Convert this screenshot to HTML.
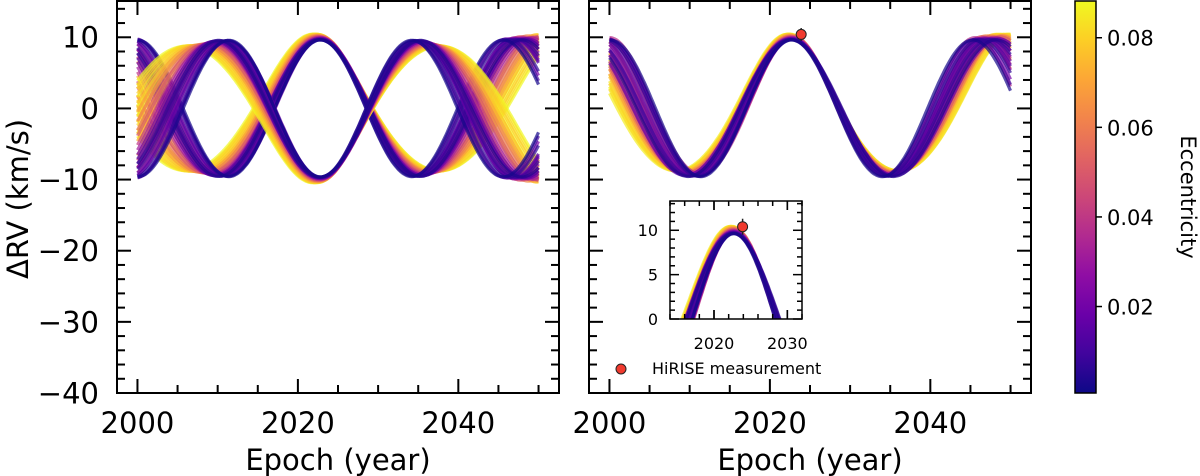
<!DOCTYPE html>
<html><head><meta charset="utf-8">
<style>
html,body{margin:0;padding:0;background:#fff;}
svg{display:block;font-family:"DejaVu Sans","Liberation Sans",sans-serif;}
</style></head>
<body>
<svg id="fig" width="1200" height="476" viewBox="0 0 1200 476" xmlns="http://www.w3.org/2000/svg">
<defs>
<linearGradient id="plasma" x1="0" y1="1" x2="0" y2="0">
<stop offset="0" stop-color="#0d0887"/><stop offset="0.1" stop-color="#41049d"/>
<stop offset="0.2" stop-color="#6a00a8"/><stop offset="0.3" stop-color="#8f0da4"/>
<stop offset="0.4" stop-color="#b12a90"/><stop offset="0.5" stop-color="#cc4778"/>
<stop offset="0.6" stop-color="#e16462"/><stop offset="0.7" stop-color="#f2844b"/>
<stop offset="0.8" stop-color="#fca636"/><stop offset="0.9" stop-color="#fcce25"/>
<stop offset="1" stop-color="#f0f921"/>
</linearGradient>
<clipPath id="clipL"><rect x="117" y="1" width="442" height="392"/></clipPath>
<clipPath id="clipR"><rect x="589" y="1" width="442" height="392"/></clipPath>
<clipPath id="clipI"><rect x="670" y="201" width="132" height="118"/></clipPath>
</defs>
<g id="left"></g>
<g id="right"></g>
<g id="inset"></g>
<g id="cbar"></g>
<text x="0" y="0" transform="translate(28,199) rotate(-90)" font-size="29" text-anchor="middle">ΔRV (km/s)</text>
<text x="338" y="470" font-size="29" text-anchor="middle">Epoch (year)</text>
<text x="810" y="470" font-size="29" text-anchor="middle">Epoch (year)</text>
<text x="0" y="0" transform="translate(1181,197) rotate(90)" font-size="21" text-anchor="middle">Eccentricity</text>
<g>
<circle cx="621" cy="369" r="5" fill="#f03a2e" stroke="#222" stroke-width="1"/>
<text x="652" y="374" font-size="16">HiRISE measurement</text>
</g>
</svg>
<script>
// ---- data ----
const rightEcc  = [0.002,0.004,0.006,0.008,0.010,0.012,0.014,0.016,0.018,0.020,0.022,0.025,0.028,0.031,0.034,0.037,0.040,0.044,0.048,0.052,0.056,0.060,0.064,0.068,0.072,0.076,0.078,0.080,0.081,0.082,0.083,0.084,0.085,0.086,0.087,0.088];
const rightPer  = [22.6,25.6,23.4,24.8,22.9,25.2,23.8,24.2,26.0,23.1,24.6,25.0,23.5,25.8,24.0,22.8,25.4,24.4,26.2,23.6,25.0,26.4,24.2,26.6,25.2,26.8,25.8,27.2,26.2,27.6,25.6,27.0,26.6,27.8,26.0,27.4];
const rightPeak = [2022.7,2022.6,2022.8,2022.6,2022.7,2022.5,2022.8,2022.7,2022.5,2022.8,2022.6,2022.7,2022.9,2022.5,2022.7,2022.8,2022.6,2022.7,2022.5,2022.9,2022.6,2022.5,2022.8,2022.4,2022.6,2022.4,2022.5,2022.3,2022.4,2022.3,2022.5,2022.3,2022.4,2022.2,2022.5,2022.3];
const leftEcc   = [0.002,0.004,0.006,0.008,0.010,0.012,0.014,0.016,0.018,0.020,0.022,0.025,0.028,0.031,0.034,0.037,0.040,0.044,0.048,0.052,0.056,0.060,0.064,0.068,0.072,0.076,0.078,0.080,0.081,0.082,0.083,0.084,0.085,0.086,0.087,0.088];
const leftPer   = [22.8,25.2,23.4,24.6,23.0,25.6,23.9,24.2,26.0,23.2,24.8,25.4,24.0,26.4,25.0,24.4,26.8,25.6,27.4,25.0,27.8,28.4,26.0,29.0,27.0,29.6,28.2,30.4,27.4,30.8,29.0,31.2,28.6,30.0,29.4,31.6];
const leftPeak  = [2022.8,2022.7,2022.9,2022.7,2022.8,2022.6,2022.9,2022.8,2022.6,2022.9,2022.7,2022.8,2022.9,2022.6,2022.8,2022.8,2022.6,2022.7,2022.5,2022.8,2022.5,2022.4,2022.7,2022.3,2022.6,2022.2,2022.4,2022.1,2022.5,2022.0,2022.3,2022.0,2022.4,2022.1,2022.3,2021.9];
const amplitude = 9.6;
const hiriseEpoch = [2023.9];
const hiriseRV = [10.4];
const hiriseErr = [0.9];
const mainYTicks = [10,0,-10,-20,-30,-40];
const mainXTicks = [2000,2020,2040];
const insetXTicks = [2020,2030];
const insetYTicks = [0,5,10];
const cbarTicks = [0.02,0.04,0.06,0.08];

const NS='http://www.w3.org/2000/svg';
function mk(tag,attrs,parent){const e=document.createElementNS(NS,tag);for(const k in attrs)e.setAttribute(k,attrs[k]);parent.appendChild(e);return e;}
const stops=[[13,8,135],[65,4,157],[106,0,168],[143,13,164],[177,42,144],[204,71,120],[225,100,98],[242,132,75],[252,166,54],[252,206,37],[240,249,33]];
const EMIN=0.0007,EMAX=0.0882;
function plasma(e){let t=Math.max(0,Math.min(1,(e-EMIN)/(EMAX-EMIN)))*10;const i=Math.min(9,Math.floor(t)),f=t-i;const a=stops[i],b=stops[i+1];return 'rgb('+a.map((v,j)=>Math.round(v+(b[j]-v)*f)).join(',')+')';}
function rv(t,P,tp,e,K){const M=2*Math.PI*(t-tp)/P;let E=M;for(let k=0;k<8;k++)E=E-(E-e*Math.sin(E)-M)/(1-e*Math.cos(E));const nu=2*Math.atan2(Math.sqrt(1+e)*Math.sin(E/2),Math.sqrt(1-e)*Math.cos(E/2));return K*(Math.cos(nu)+e);}

function axes(x0,x1,xmin,xmax,y0,y1,ymin,ymax){return{X:v=>x0+(v-xmin)/(xmax-xmin)*(x1-x0),Y:v=>y1-(v-ymin)/(ymax-ymin)*(y1-y0),x0,x1,y0,y1};}
const L=axes(117,559,1997.45,2052.55,1,393,-40,15.1);
const R=axes(589,1031,1997.45,2052.55,1,393,-40,15.1);
const I=axes(670,802,2014,2032,201,319,0,13.3);

function drawCurves(g,ax,ecc,per,peak,signs,clip,w,t0,t1){
  const cg=mk('g',{'clip-path':'url(#'+clip+')'},g);
  
  
  const order=ecc.map((e,i)=>i).sort((a,b)=>ecc[b]-ecc[a]);
  for(const s of signs){for(const i of order){
    let pts=[];for(let t=t0;t<=t1+1e-9;t+=0.2){pts.push(ax.X(t).toFixed(1)+','+ax.Y(s*rv(t,per[i],peak[i],ecc[i],amplitude)).toFixed(1));}
    const pl=mk('polyline',{points:pts.join(' '),fill:'none',stroke:plasma(ecc[i]),'stroke-width':w,'stroke-opacity':0.7,'stroke-linejoin':'round'},cg);
    
    
  }}
}
function frame(g,ax,xt,xminor,yt,yminor,maj,mnr,sw,fs,labels,yl,xl){
  const fr=mk('rect',{x:ax.x0,y:ax.y0,width:ax.x1-ax.x0,height:ax.y1-ax.y0,fill:'none',stroke:'#000','stroke-width':sw},g);
  
  
  const tg=mk('g',{stroke:'#000','stroke-width':sw},g);
  
  
  for(const v of xminor){const x=ax.X(v);const len=xt.includes(v)?maj:mnr;mk('line',{x1:x,x2:x,y1:ax.y1,y2:ax.y1-len},tg);mk('line',{x1:x,x2:x,y1:ax.y0,y2:ax.y0+len},tg);}
  for(const v of yminor){const y=ax.Y(v);const len=yt.includes(v)?maj:mnr;mk('line',{y1:y,y2:y,x1:ax.x0,x2:ax.x0+len},tg);mk('line',{y1:y,y2:y,x1:ax.x1,x2:ax.x1-len},tg);}
  if(xl){for(const v of xt){const t=mk('text',{x:ax.X(v),y:ax.y1+xl,'font-size':fs,'text-anchor':'middle'},g);t.textContent=v;}}
  if(labels){for(const v of yt){const t=mk('text',{x:ax.x0-yl,y:ax.Y(v)+fs*0.36,'font-size':fs,'text-anchor':'end'},g);t.textContent=(v<0?'\u2212'+(-v):v);}}
}
const xMinorMain=[];for(let v=2000;v<=2050;v+=5)xMinorMain.push(v);
const yMinorMain=[];for(let v=-40;v<=14;v+=2)yMinorMain.push(v);
const gl=document.getElementById('left'),gr=document.getElementById('right'),gi=document.getElementById('inset'),gc=document.getElementById('cbar');
drawCurves(gl,L,leftEcc,leftPer,leftPeak,[1,-1],'clipL',3.2,2000,2050);
frame(gl,L,mainXTicks,xMinorMain,mainYTicks,yMinorMain,14,8,2,29,true,18,40);
drawCurves(gr,R,rightEcc,rightPer,rightPeak,[1],'clipR',3.2,2000,2050);
frame(gr,R,mainXTicks,xMinorMain,mainYTicks,yMinorMain,14,8,2,29,false,0,40);
function point(g,ax,r){for(let i=0;i<hiriseEpoch.length;i++){const x=ax.X(hiriseEpoch[i]);
  const eb=mk('line',{x1:x,x2:x,y1:ax.Y(hiriseRV[i]+hiriseErr[i]),y2:ax.Y(hiriseRV[i]-hiriseErr[i]),stroke:'#222','stroke-width':1.5},g);
  
  const c=mk('circle',{cx:x,cy:ax.Y(hiriseRV[i]),r:r,fill:'#f03a2e',stroke:'#222','stroke-width':1},g);
  }}
point(gr,R,5);
const ibg=mk('rect',{x:670,y:201,width:132,height:118,fill:'#fff'},gi);

drawCurves(gi,I,rightEcc,rightPer,rightPeak,[1],'clipI',3.2,2014,2032);
const xMinorI=[];for(let v=2014;v<=2032;v+=2)xMinorI.push(v);
const yMinorI=[];for(let v=0;v<=13;v+=1)yMinorI.push(v);
frame(gi,I,insetXTicks,xMinorI.concat([2020,2030]),insetYTicks,yMinorI,9,5,1.5,16,true,12,30);
point(gi,I,5);
const cb=mk('rect',{x:1075,y:1,width:21,height:392,fill:'url(#plasma)',stroke:'#000','stroke-width':1.5},gc);

for(const v of cbarTicks){const y=393-(v-EMIN)/(EMAX-EMIN)*392;
  const tl=mk('line',{x1:1096,x2:1102,y1:y,y2:y,stroke:'#000','stroke-width':1.5},gc);
  
  const t=mk('text',{x:1107,y:y+8,'font-size':21},gc);t.textContent=v.toFixed(2);
  }
</script>
</body></html>
